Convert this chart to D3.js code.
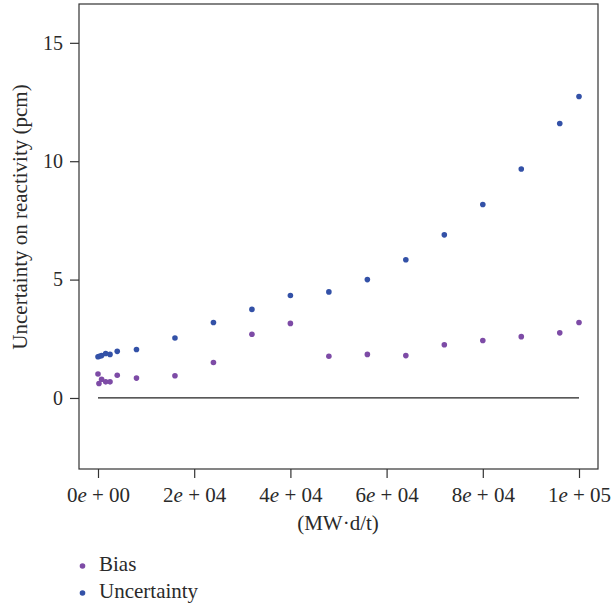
<!DOCTYPE html>
<html><head><meta charset="utf-8">
<script src="https://cdn.jsdelivr.net/npm/d3@7"></script>
<style>body{margin:0;background:#fff}svg{display:block}</style>
</head><body>
<svg id="c" width="611" height="608"></svg>
<script>
const burnup = [0, 300, 750, 1600, 2500, 4000, 8000, 16000, 24000, 32000, 40000, 48000, 56000, 64000, 72000, 80000, 88000, 96000, 100000];
const biasX = [0, 200, 750, 1600, 2500, 4000, 8000, 16000, 24000, 32000, 40000, 48000, 56000, 64000, 72000, 80000, 88000, 96000, 100000];
const bias = [1.01, 0.61, 0.79, 0.68, 0.68, 0.96, 0.84, 0.94, 1.50, 2.69, 3.15, 1.76, 1.84, 1.79, 2.25, 2.43, 2.59, 2.75, 3.19];
const uncertainty = [1.74, 1.76, 1.79, 1.88, 1.84, 1.97, 2.05, 2.53, 3.19, 3.74, 4.33, 4.48, 5.00, 5.84, 6.89, 8.17, 9.67, 11.59, 12.73];
const xTicks = [0, 20000, 40000, 60000, 80000, 100000];
const xTickMant = ["0", "2", "4", "6", "8", "1"];
const xTickExp = ["00", "04", "04", "04", "04", "05"];
const yTicks = [0, 5, 10, 15];
const seriesNames = ["Bias", "Uncertainty"];
const seriesColors = ["#7d4ba6", "#3351a7"];

const svg = d3.select("#c");
const font = "'Liberation Serif', 'DejaVu Serif', serif";
const ink = "#2a2a2a";
const L = 79, R = 598, T = 4, B = 469;
const x = d3.scaleLinear().domain([-3950, 103950]).range([L, R]);
const y = d3.scaleLinear().domain([-3.0, 16.64]).range([B, T]);

// zero line
svg.append("line").attr("x1", x(0)).attr("x2", x(100000)).attr("y1", y(0)).attr("y2", y(0))
  .attr("stroke", "#222").attr("stroke-width", 1.2);

// points
svg.append("g").selectAll("circle").data(bias).join("circle")
  .attr("cx", (d, i) => x(biasX[i])).attr("cy", d => y(d)).attr("r", 2.8).attr("fill", seriesColors[0]);
svg.append("g").selectAll("circle").data(uncertainty).join("circle")
  .attr("cx", (d, i) => x(burnup[i])).attr("cy", d => y(d)).attr("r", 2.8).attr("fill", seriesColors[1]);

// frame
svg.append("rect").attr("x", L).attr("y", T).attr("width", R - L).attr("height", B - T)
  .attr("fill", "none").attr("stroke", "#333").attr("stroke-width", 1.2);

// y axis
const ya = svg.append("g").attr("transform", `translate(${L},0)`)
  .call(d3.axisLeft(y).tickValues(yTicks).tickSize(9).tickPadding(7).tickFormat(d3.format("d")));
ya.select(".domain").remove();
ya.selectAll("line").attr("stroke", "#333").attr("stroke-width", 1.2);
ya.selectAll("text").attr("font-family", font).attr("font-size", 20).attr("fill", ink);

// x axis
const xa = svg.append("g").attr("transform", `translate(0,${B})`)
  .call(d3.axisBottom(x).tickValues(xTicks).tickSize(9).tickFormat(() => ""));
xa.select(".domain").remove();
xa.selectAll("line").attr("stroke", "#333").attr("stroke-width", 1.2);
xa.selectAll(".tick text").each(function(d, i) {
  const t = d3.select(this).attr("font-family", font).attr("font-size", 21).attr("fill", ink)
    .attr("y", 33).attr("dy", 0);
  t.append("tspan").text(xTickMant[i]);
  t.append("tspan").attr("font-style", "italic").text("e");
  t.append("tspan").text(" + " + xTickExp[i]);
});

// axis titles
svg.append("text").attr("x", 338).attr("y", 530).attr("text-anchor", "middle")
  .attr("font-family", font).attr("font-size", 21).attr("fill", ink).text("(MW·d/t)");
svg.append("text").attr("transform", `translate(27,217) rotate(-90)`).attr("text-anchor", "middle")
  .attr("font-family", font).attr("font-size", 21).attr("fill", ink).text("Uncertainty on reactivity (pcm)");

// legend
const lg = svg.append("g").selectAll("g").data(seriesNames).join("g")
  .attr("transform", (d, i) => `translate(82.5,${566 + i * 27})`);
lg.append("circle").attr("r", 2.8).attr("fill", (d, i) => seriesColors[i]);
lg.append("text").attr("x", 16.5).attr("dy", "0.23em").attr("font-family", font).attr("font-size", 21)
  .attr("fill", ink).text(d => d);
</script>
</body></html>
